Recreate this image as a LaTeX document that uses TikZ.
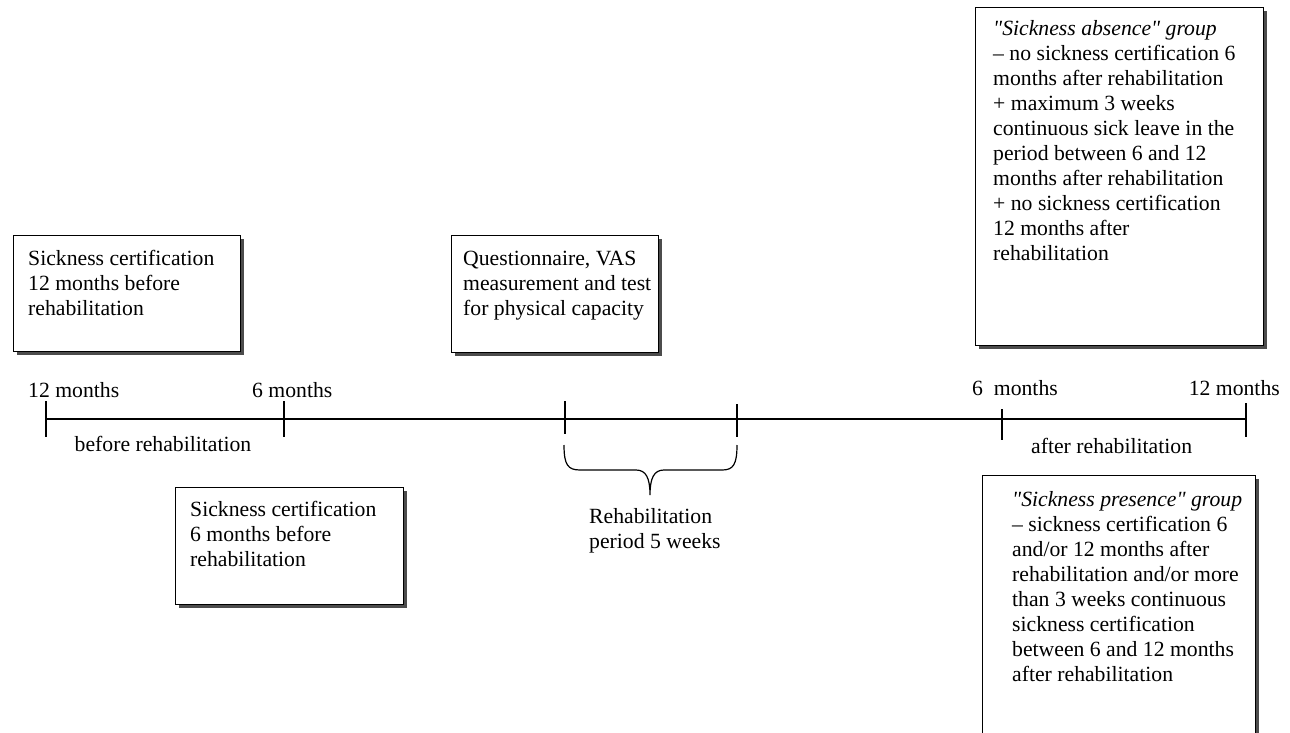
\documentclass[tikz,border=0pt]{standalone}
\usepackage{fontspec}
\setmainfont{Liberation Serif}
\usetikzlibrary{shadows}
\newcommand{\mlines}[1]{\begin{tabular}[t]{@{}l@{}}#1\end{tabular}}
\newcommand{\qq}{\textquotedbl}
\begin{document}
\begin{tikzpicture}[x=1pt,y=-1pt,
  every node/.style={font=\fontsize{21.7}{25}\selectfont, inner sep=0pt},
  box/.style={draw=black, line width=1.2pt, fill=white, anchor=north west,
    drop shadow={shadow xshift=3pt, shadow yshift=-3pt, fill=black!70, opacity=1}},
  txt/.style={anchor=base west, inner sep=0pt},
  axis/.style={line width=1.2pt}
]
\useasboundingbox (0,0) rectangle (1290,733);
\clip (0,0) rectangle (1290,733);

% boxes
\node[box, minimum width=227pt, minimum height=116pt] (b1) at (13,235) {};
\node[txt] (b1t) at (28,265.5) {\mlines{Sickness certification\\12 months before\\rehabilitation}};

\node[box, minimum width=207pt, minimum height=117pt] (b2) at (451,235) {};
\node[txt] (b2t) at (463,265.5) {\mlines{Questionnaire, VAS\\measurement and test\\for physical capacity}};

\node[box, minimum width=228pt, minimum height=117pt] (b3) at (175,487) {};
\node[txt] (b3t) at (190,516) {\mlines{Sickness certification\\6 months before\\rehabilitation}};

\node[box, minimum width=288pt, minimum height=338pt] (b4) at (975,7) {};
\node[txt] (b4t) at (993,36) {\mlines{\textit{\qq Sickness absence\qq\ group}\\– no sickness certification 6\\months after rehabilitation\\+ maximum 3 weeks\\continuous sick leave in the\\period between 6 and 12\\months after rehabilitation\\+ no sickness certification\\12 months after\\rehabilitation}};

\node[box, minimum width=273pt, minimum height=300pt] (b5) at (982,475) {};
\node[txt] (b5t) at (1012,506) {\mlines{\textit{\qq Sickness presence\qq\ group}\\– sickness certification 6\\and/or 12 months after\\rehabilitation and/or more\\than 3 weeks continuous\\sickness certification\\between 6 and 12 months\\after rehabilitation}};

% timeline
\coordinate (tA) at (46,419);
\coordinate (tB) at (1246,419);
\draw[axis] (tA) -- (tB);
\coordinate (k1t) at (46,401);   \coordinate (k1b) at (46,437);
\coordinate (k2t) at (284,401);  \coordinate (k2b) at (284,437);
\coordinate (k3t) at (565,401);  \coordinate (k3b) at (565,434);
\coordinate (k4t) at (737,404);  \coordinate (k4b) at (737,437);
\coordinate (k5t) at (1002,409); \coordinate (k5b) at (1002,440);
\coordinate (k6t) at (1246,403); \coordinate (k6b) at (1246,437);
\foreach \i in {1,...,6} {\draw[axis] (k\i t) -- (k\i b);}

% labels
\node[txt] (l12a) at (28,397) {12 months};
\node[txt] (l6a) at (252,397) {6 months};
\node[txt] (l6b) at (972,395) {6\ \ months};
\node[anchor=base east] (l12b) at (1280,395) {12 months};
\node[anchor=base] (lbefore) at (163,451) {before rehabilitation};
\node[txt] (lafter) at (1031,453) {after rehabilitation};
\node[txt] (lrehab) at (589,523) {\mlines{Rehabilitation\\period 5 weeks}};

% brace
\coordinate (brL) at (564,445);
\coordinate (brR) at (737,445);
\coordinate (brTip) at (650,495);
\draw[axis] (brL) .. controls (564,465) and (568,470) .. (580,470) -- (636,470)
  .. controls (646,470) and (650,478) .. (brTip)
  .. controls (650,478) and (654,470) .. (664,470) -- (722,470)
  .. controls (733,470) and (737,465) .. (brR);
\end{tikzpicture}
\end{document}
